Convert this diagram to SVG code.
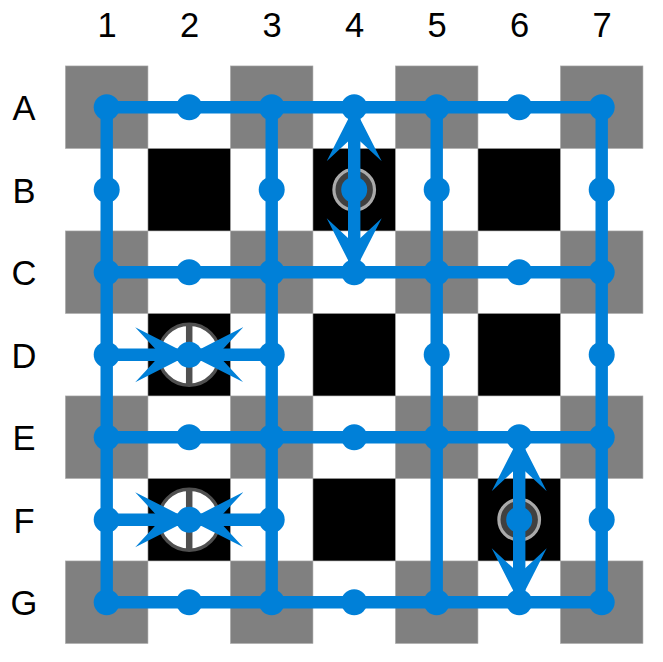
<svg xmlns="http://www.w3.org/2000/svg" width="663" height="662" viewBox="0 0 663 662">
<style>
.lb{font-family:"Liberation Sans",Arial,sans-serif;font-size:34.5px;fill:#000;text-anchor:middle}
.g{fill:#808080;stroke:#a8a8a8;stroke-width:.6}
.k{fill:#000;stroke:#a8a8a8;stroke-width:.6}
.e{stroke:#0080d8;stroke-width:12.4;fill:none}
.a{stroke:#0080d8;stroke-width:12.4;fill:none;marker-end:url(#bh)}
.n{fill:#0080d8}
.s1{fill:#404040;stroke:#aaa;stroke-width:3.2}
.s2{fill:#fff;stroke:#505050;stroke-width:3.4}
.s3{stroke:#505050;stroke-width:6.5}
</style>
<defs>
<marker id="bh" markerUnits="userSpaceOnUse" markerWidth="60" markerHeight="60" refX="54" refY="30" orient="auto">
<path d="M54,30 L0,2.5 L25.5,30 L0,57.5 Z" fill="#0080d8"/>
</marker>
<rect id="sq" width="82.5" height="82.5"/>
</defs>
<rect width="663" height="662" fill="#fff"/>
<g id="board">
<use href="#sq" class="g" x="65.45" y="65.95"/><use href="#sq" class="g" x="230.45" y="65.95"/><use href="#sq" class="g" x="395.45" y="65.95"/><use href="#sq" class="g" x="560.45" y="65.95"/>
<use href="#sq" class="g" x="65.45" y="230.95"/><use href="#sq" class="g" x="230.45" y="230.95"/><use href="#sq" class="g" x="395.45" y="230.95"/><use href="#sq" class="g" x="560.45" y="230.95"/>
<use href="#sq" class="g" x="65.45" y="395.95"/><use href="#sq" class="g" x="230.45" y="395.95"/><use href="#sq" class="g" x="395.45" y="395.95"/><use href="#sq" class="g" x="560.45" y="395.95"/>
<use href="#sq" class="g" x="65.45" y="560.95"/><use href="#sq" class="g" x="230.45" y="560.95"/><use href="#sq" class="g" x="395.45" y="560.95"/><use href="#sq" class="g" x="560.45" y="560.95"/>
<use href="#sq" class="k" x="147.95" y="148.45"/><use href="#sq" class="k" x="312.95" y="148.45"/><use href="#sq" class="k" x="477.95" y="148.45"/>
<use href="#sq" class="k" x="147.95" y="313.45"/><use href="#sq" class="k" x="312.95" y="313.45"/><use href="#sq" class="k" x="477.95" y="313.45"/>
<use href="#sq" class="k" x="147.95" y="478.45"/><use href="#sq" class="k" x="312.95" y="478.45"/><use href="#sq" class="k" x="477.95" y="478.45"/>
</g>
<g id="labels">
<text class="lb" x="107" y="37">1</text><text class="lb" x="189.5" y="37">2</text><text class="lb" x="272" y="37">3</text><text class="lb" x="354.5" y="37">4</text><text class="lb" x="437" y="37">5</text><text class="lb" x="519.5" y="37">6</text><text class="lb" x="602" y="37">7</text>
<text class="lb" x="24" y="120">A</text><text class="lb" x="24" y="202.5">B</text><text class="lb" x="24" y="285">C</text><text class="lb" x="24" y="367.5">D</text><text class="lb" x="24" y="450">E</text><text class="lb" x="24" y="532.5">F</text><text class="lb" x="24" y="615">G</text>
</g>
<g id="symbols">
<circle class="s1" cx="354.2" cy="189.7" r="20.3"/>
<circle class="s1" cx="519.2" cy="519.7" r="20.3"/>
<g id="sym-D2"><circle class="s2" cx="189.2" cy="354.7" r="30.5"/><line class="s3" x1="189.2" y1="324" x2="189.2" y2="385.4"/></g>
<g id="sym-F2"><circle class="s2" cx="189.2" cy="519.7" r="30.5"/><line class="s3" x1="189.2" y1="489" x2="189.2" y2="550.4"/></g>
</g>
<g id="connectors">
<path class="e" d="M106.7,107.2H601.7M106.7,272.2H601.7M106.7,437.2H601.7M106.7,602.2H601.7"/>
<path class="e" d="M106.7,107.2V602.2M271.7,107.2V602.2M436.7,107.2V602.2M601.7,107.2V602.2"/>
<line class="a" x1="354.2" y1="189.7" x2="354.2" y2="107.2"/>
<line class="a" x1="354.2" y1="189.7" x2="354.2" y2="272.2"/>
<line class="a" x1="519.2" y1="519.7" x2="519.2" y2="437.2"/>
<line class="a" x1="519.2" y1="519.7" x2="519.2" y2="602.2"/>
<line class="a" x1="106.7" y1="354.7" x2="189.2" y2="354.7"/>
<line class="a" x1="271.7" y1="354.7" x2="189.2" y2="354.7"/>
<line class="a" x1="106.7" y1="519.7" x2="189.2" y2="519.7"/>
<line class="a" x1="271.7" y1="519.7" x2="189.2" y2="519.7"/>
</g>
<g id="nodes">
<g id="A1"><circle class="n" cx="106.7" cy="107.2" r="13"/></g><g id="A2"><circle class="n" cx="189.2" cy="107.2" r="13"/></g><g id="A3"><circle class="n" cx="271.7" cy="107.2" r="13"/></g><g id="A4"><circle class="n" cx="354.2" cy="107.2" r="13"/></g><g id="A5"><circle class="n" cx="436.7" cy="107.2" r="13"/></g><g id="A6"><circle class="n" cx="519.2" cy="107.2" r="13"/></g><g id="A7"><circle class="n" cx="601.7" cy="107.2" r="13"/></g>
<g id="B1"><circle class="n" cx="106.7" cy="189.7" r="13"/></g><g id="B3"><circle class="n" cx="271.7" cy="189.7" r="13"/></g><g id="B4"><circle class="n" cx="354.2" cy="189.7" r="13"/></g><g id="B5"><circle class="n" cx="436.7" cy="189.7" r="13"/></g><g id="B7"><circle class="n" cx="601.7" cy="189.7" r="13"/></g>
<g id="C1"><circle class="n" cx="106.7" cy="272.2" r="13"/></g><g id="C2"><circle class="n" cx="189.2" cy="272.2" r="13"/></g><g id="C3"><circle class="n" cx="271.7" cy="272.2" r="13"/></g><g id="C4"><circle class="n" cx="354.2" cy="272.2" r="13"/></g><g id="C5"><circle class="n" cx="436.7" cy="272.2" r="13"/></g><g id="C6"><circle class="n" cx="519.2" cy="272.2" r="13"/></g><g id="C7"><circle class="n" cx="601.7" cy="272.2" r="13"/></g>
<g id="D1"><circle class="n" cx="106.7" cy="354.7" r="13"/></g><g id="D2"><circle class="n" cx="189.2" cy="354.7" r="13"/></g><g id="D3"><circle class="n" cx="271.7" cy="354.7" r="13"/></g><g id="D5"><circle class="n" cx="436.7" cy="354.7" r="13"/></g><g id="D7"><circle class="n" cx="601.7" cy="354.7" r="13"/></g>
<g id="E1"><circle class="n" cx="106.7" cy="437.2" r="13"/></g><g id="E2"><circle class="n" cx="189.2" cy="437.2" r="13"/></g><g id="E3"><circle class="n" cx="271.7" cy="437.2" r="13"/></g><g id="E4"><circle class="n" cx="354.2" cy="437.2" r="13"/></g><g id="E5"><circle class="n" cx="436.7" cy="437.2" r="13"/></g><g id="E6"><circle class="n" cx="519.2" cy="437.2" r="13"/></g><g id="E7"><circle class="n" cx="601.7" cy="437.2" r="13"/></g>
<g id="F1"><circle class="n" cx="106.7" cy="519.7" r="13"/></g><g id="F2"><circle class="n" cx="189.2" cy="519.7" r="13"/></g><g id="F3"><circle class="n" cx="271.7" cy="519.7" r="13"/></g><g id="F6"><circle class="n" cx="519.2" cy="519.7" r="13"/></g><g id="F7"><circle class="n" cx="601.7" cy="519.7" r="13"/></g>
<g id="G1"><circle class="n" cx="106.7" cy="602.2" r="13"/></g><g id="G2"><circle class="n" cx="189.2" cy="602.2" r="13"/></g><g id="G3"><circle class="n" cx="271.7" cy="602.2" r="13"/></g><g id="G4"><circle class="n" cx="354.2" cy="602.2" r="13"/></g><g id="G5"><circle class="n" cx="436.7" cy="602.2" r="13"/></g><g id="G6"><circle class="n" cx="519.2" cy="602.2" r="13"/></g><g id="G7"><circle class="n" cx="601.7" cy="602.2" r="13"/></g>
</g>
</svg>
